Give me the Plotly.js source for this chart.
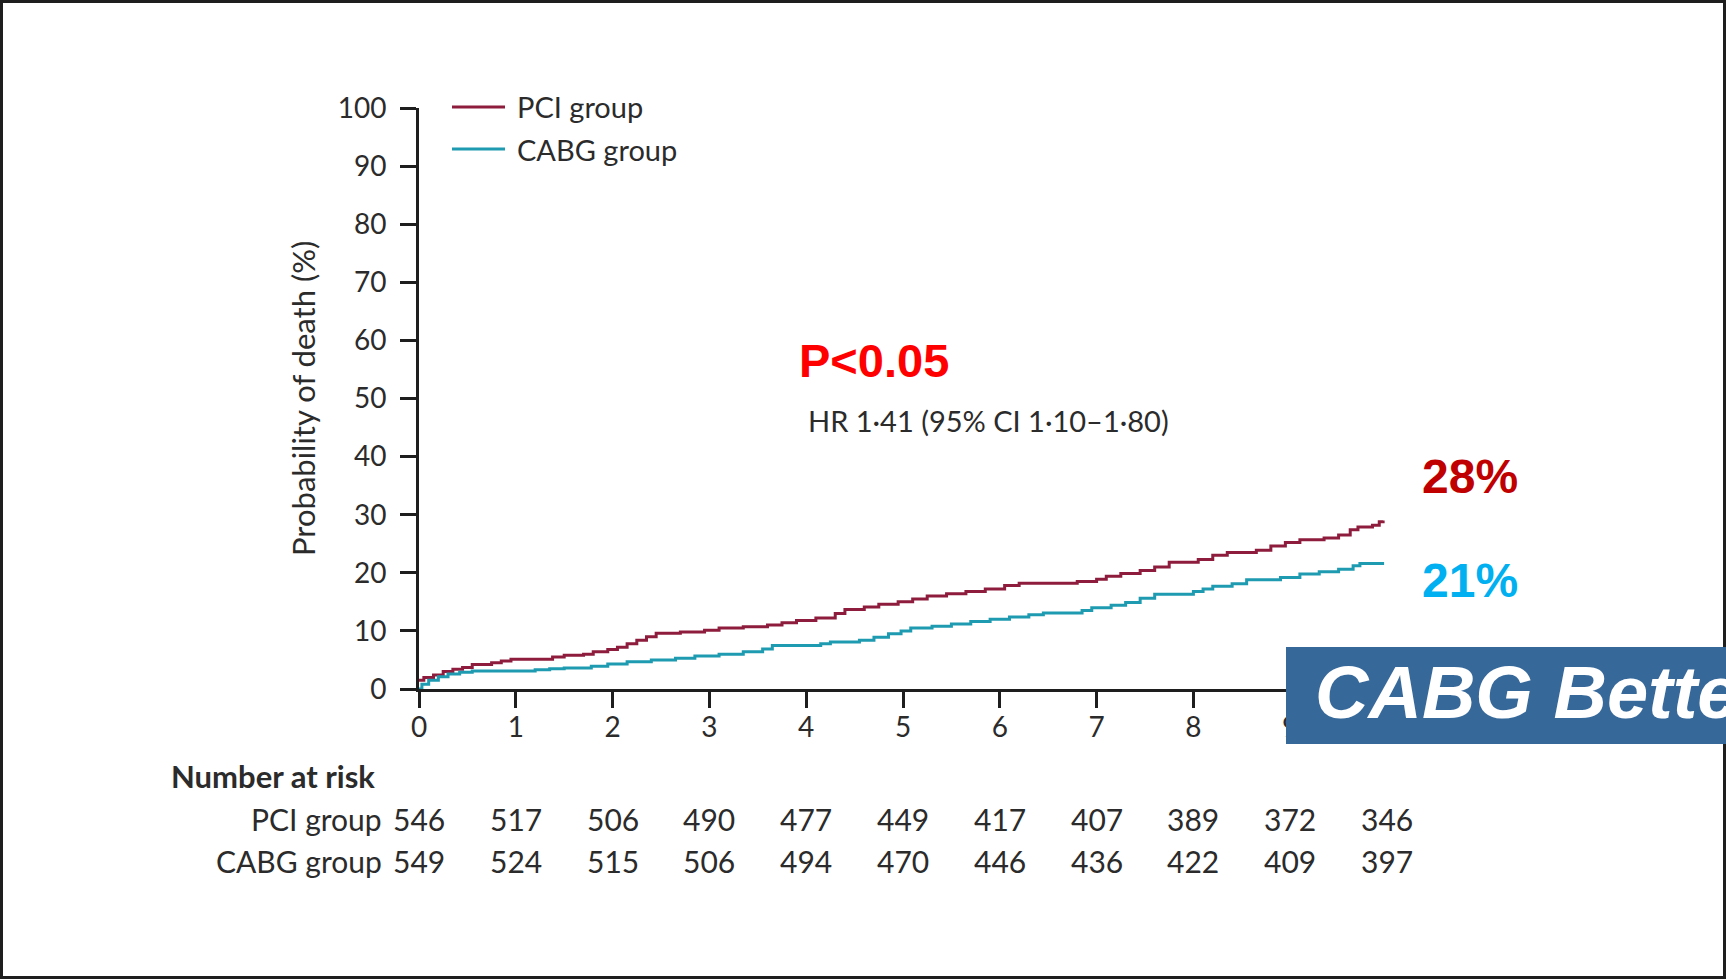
<!DOCTYPE html>
<html>
<head>
<meta charset="utf-8">
<script src="https://cdn.plot.ly/plotly-3.0.1.min.js"></script>
<style>
  html, body { margin: 0; padding: 0; background: #ffffff; }
  #chart { width: 1726px; height: 979px; }
</style>
</head>
<body>
<div id="chart"></div>
<script>
// ---- Data (years, probability of death %) ----
const pciYears = [0, 0.05, 0.15, 0.25, 0.35, 0.45, 0.55, 0.75, 0.85, 0.95, 1.38, 1.5, 1.7, 1.8, 1.95, 2.05, 2.15, 2.25, 2.35, 2.45, 2.7, 2.95, 3.1, 3.35, 3.6, 3.75, 3.9, 4.1, 4.3, 4.4, 4.6, 4.75, 4.95, 5.1, 5.25, 5.45, 5.65, 5.85, 6.05, 6.2, 6.8, 7.0, 7.1, 7.25, 7.45, 7.6, 7.75, 8.05, 8.2, 8.35, 8.65, 8.8, 8.95, 9.1, 9.35, 9.5, 9.62, 9.7, 9.85, 9.92, 9.96];
const pciPct   = [1.5, 2.0, 2.4, 3.0, 3.4, 3.7, 4.2, 4.5, 4.8, 5.1, 5.5, 5.8, 6.0, 6.4, 6.8, 7.2, 7.8, 8.4, 9.0, 9.6, 9.8, 10.1, 10.5, 10.7, 11.0, 11.4, 11.8, 12.2, 13.0, 13.7, 14.1, 14.6, 15.0, 15.5, 16.0, 16.4, 16.8, 17.2, 17.8, 18.2, 18.5, 18.9, 19.4, 19.9, 20.4, 21.0, 21.8, 22.3, 23.0, 23.5, 23.9, 24.6, 25.2, 25.7, 26.0, 26.5, 27.4, 27.9, 28.2, 28.8, 29.0];

const cabgYears = [0, 0.03, 0.1, 0.2, 0.3, 0.42, 0.55, 1.2, 1.35, 1.5, 1.78, 1.95, 2.15, 2.4, 2.65, 2.85, 3.1, 3.35, 3.55, 3.65, 4.15, 4.25, 4.55, 4.7, 4.85, 4.98, 5.08, 5.3, 5.5, 5.7, 5.9, 6.1, 6.3, 6.45, 6.85, 6.95, 7.15, 7.3, 7.45, 7.6, 8.0, 8.1, 8.2, 8.4, 8.55, 8.9, 9.1, 9.3, 9.5, 9.65, 9.72, 9.97];
const cabgPct   = [0, 0.8, 1.5, 2.1, 2.6, 2.9, 3.1, 3.3, 3.5, 3.6, 3.9, 4.3, 4.7, 5.0, 5.3, 5.7, 6.0, 6.4, 6.9, 7.5, 7.8, 8.1, 8.4, 8.9, 9.5, 10.0, 10.5, 10.8, 11.2, 11.6, 12.0, 12.4, 12.8, 13.1, 13.5, 14.0, 14.4, 14.9, 15.6, 16.3, 16.8, 17.2, 17.7, 18.1, 18.8, 19.2, 19.8, 20.2, 20.6, 21.2, 21.6, 21.6];

const seriesNames = ["PCI group", "CABG group"];
const riskYears = [0, 1, 2, 3, 4, 5, 6, 7, 8, 9, 10];
const pciAtRisk  = [546, 517, 506, 490, 477, 449, 417, 407, 389, 372, 346];
const cabgAtRisk = [549, 524, 515, 506, 494, 470, 446, 436, 422, 409, 397];

const xTicks = [0, 1, 2, 3, 4, 5, 6, 7, 8, 9, 10];
const yTicks = [0, 10, 20, 30, 40, 50, 60, 70, 80, 90, 100];

const pValueText = "P<0.05";
const hrText = "HR 1·41 (95% CI 1·10–1·80)";
const pciEndLabel = "28%";
const cabgEndLabel = "21%";
const bannerText = "CABG Better";

// ---- Layout geometry (pixels) ----
const W = 1726, H = 979;
const plotL = 419, plotR = 1387, plotT = 108, plotB = 689;
const px = x => (x - plotL) / (plotR - plotL);
const py = y => (plotB - y) / (plotB - plotT);

const PCI_COLOR = "#8E1D3D";
const CABG_COLOR = "#1E9BB0";
const TEXT = "#2b2b2b";
const FONT = "Lato, 'Open Sans', sans-serif";

const traces = [
  { x: pciYears, y: pciPct, name: seriesNames[0], type: "scatter", mode: "lines",
    line: { shape: "hv", color: PCI_COLOR, width: 3 }, showlegend: false, hoverinfo: "skip" },
  { x: cabgYears, y: cabgPct, name: seriesNames[1], type: "scatter", mode: "lines",
    line: { shape: "hv", color: CABG_COLOR, width: 3 }, showlegend: false, hoverinfo: "skip" }
];

const annotations = [];
const shapes = [];

// outer frame
shapes.push({ type: "rect", xref: "paper", yref: "paper", layer: "below",
  x0: px(1.5), x1: px(W - 1.5), y0: py(1.5), y1: py(H - 1.5),
  line: { color: "#1e1e1e", width: 3 }, fillcolor: "rgba(0,0,0,0)" });

// custom legend
const legendRows = [{ y: 107, color: PCI_COLOR, name: seriesNames[0] }, { y: 149, color: CABG_COLOR, name: seriesNames[1] }];
legendRows.forEach(r => {
  shapes.push({ type: "line", xref: "paper", yref: "paper", x0: px(452), x1: px(505), y0: py(r.y), y1: py(r.y),
    line: { color: r.color, width: 3 } });
  annotations.push({ xref: "paper", yref: "paper", x: px(515), y: py(r.y), xanchor: "left", yanchor: "middle",
    text: r.name, showarrow: false, font: { family: FONT, size: 29, color: TEXT } });
});

// y axis title
annotations.push({ xref: "paper", yref: "paper", x: px(303), y: py(399), xanchor: "center", yanchor: "middle",
  text: "Probability of death (%)", textangle: -90, showarrow: false, font: { family: FONT, size: 31, color: TEXT } });

// P value & HR
annotations.push({ xref: "paper", yref: "paper", x: px(874), y: py(360), xanchor: "center", yanchor: "middle",
  text: "<b>" + pValueText + "</b>", showarrow: false, font: { family: "'Liberation Sans', Arial, sans-serif", size: 47, color: "#FF0000" } });
annotations.push({ xref: "paper", yref: "paper", x: px(806), y: py(420), xanchor: "left", yanchor: "middle",
  text: hrText, showarrow: false, font: { family: FONT, size: 29, color: TEXT } });

// end labels
annotations.push({ xref: "paper", yref: "paper", x: px(1470), y: py(476), xanchor: "center", yanchor: "middle",
  text: "<b>" + pciEndLabel + "</b>", showarrow: false, font: { family: "'Liberation Sans', Arial, sans-serif", size: 48, color: "#C00000" } });
annotations.push({ xref: "paper", yref: "paper", x: px(1470), y: py(580), xanchor: "center", yanchor: "middle",
  text: "<b>" + cabgEndLabel + "</b>", showarrow: false, font: { family: "'Liberation Sans', Arial, sans-serif", size: 48, color: "#00B0F0" } });

// banner
shapes.push({ type: "rect", xref: "paper", yref: "paper", layer: "above",
  x0: px(1286), x1: px(W + 5), y0: py(744), y1: py(647),
  line: { width: 0 }, fillcolor: "#36689A" });
annotations.push({ xref: "paper", yref: "paper", x: px(1313), y: py(693), xanchor: "left", yanchor: "middle",
  text: "<b><i>" + bannerText + "</i></b>", showarrow: false, font: { family: "'Liberation Sans', Arial, sans-serif", size: 74, color: "#FFFFFF" } });

// number at risk table
annotations.push({ xref: "paper", yref: "paper", x: px(169), y: py(776), xanchor: "left", yanchor: "middle",
  text: "<b>Number at risk</b>", showarrow: false, font: { family: FONT, size: 31, color: TEXT } });
const riskRows = [{ y: 819, label: seriesNames[0], vals: pciAtRisk }, { y: 861, label: seriesNames[1], vals: cabgAtRisk }];
riskRows.forEach(r => {
  annotations.push({ xref: "paper", yref: "paper", x: px(384), y: py(r.y), xanchor: "right", yanchor: "middle",
    text: r.label, showarrow: false, font: { family: FONT, size: 30, color: TEXT } });
  r.vals.forEach((v, i) => {
    annotations.push({ xref: "x", yref: "paper", x: riskYears[i], y: py(r.y), xanchor: "center", yanchor: "middle",
      text: String(v), showarrow: false, font: { family: FONT, size: 30, color: TEXT } });
  });
});

const axisCommon = {
  showgrid: false, zeroline: false, showline: true, linecolor: "#1e1e1e", linewidth: 3,
  ticks: "outside", ticklen: 16, tickwidth: 3, tickcolor: "#1e1e1e",
  tickfont: { family: FONT, size: 28, color: TEXT }, fixedrange: true
};

const layout = {
  width: W, height: H,
  paper_bgcolor: "#ffffff", plot_bgcolor: "#ffffff",
  margin: { l: plotL, r: W - plotR, t: plotT, b: H - plotB, pad: 0 },
  showlegend: false,
  xaxis: Object.assign({}, axisCommon, { range: [0, 10], tickvals: xTicks, ticktext: xTicks.map(String), ticklabelstandoff: -5 }),
  yaxis: Object.assign({}, axisCommon, { range: [0, 100], tickvals: yTicks, ticktext: yTicks.map(String), ticklabelstandoff: 8 }),
  annotations: annotations,
  shapes: shapes
};

Plotly.newPlot("chart", traces, layout, { displayModeBar: false, staticPlot: true });
</script>
</body>
</html>
